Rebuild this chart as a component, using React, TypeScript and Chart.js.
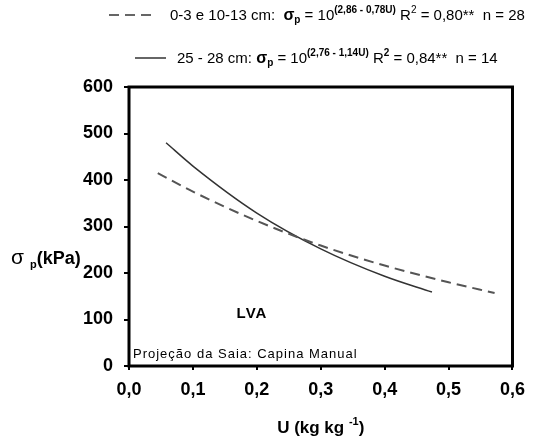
import React, { useEffect, useRef } from "react";
import { Chart, registerables } from "chart.js";

Chart.register(...registerables);

// Data
const dashedU = [0.045, 0.1, 0.2, 0.3, 0.4, 0.5, 0.572];
const dashedSigma = [415, 375, 312, 259, 216, 180, 157];
const solidU = [0.058, 0.1, 0.2, 0.3, 0.4, 0.474];
const solidSigma = [480, 430, 329, 252, 193, 159];
const xTicks = [0, 0.1, 0.2, 0.3, 0.4, 0.5, 0.6];
const yTicks = [0, 100, 200, 300, 400, 500, 600];
const seriesLabels = ["0-3 e 10-13 cm", "25 - 28 cm"];

const FONT = "Arial, 'Liberation Sans', sans-serif";

type Run = { t: string; font: string; dy?: number };

function drawRuns(ctx: CanvasRenderingContext2D, runs: Run[], x: number, y: number, align: "left" | "center" = "left") {
  let total = 0;
  for (const r of runs) {
    ctx.font = r.font;
    total += ctx.measureText(r.t).width;
  }
  let cx = align === "center" ? x - total / 2 : x;
  ctx.textBaseline = "alphabetic";
  ctx.textAlign = "left";
  for (const r of runs) {
    ctx.font = r.font;
    ctx.fillText(r.t, cx, y + (r.dy || 0));
    cx += ctx.measureText(r.t).width;
  }
}

const overlay = {
  id: "overlay",
  afterDraw(chart: any) {
    const ctx = chart.ctx as CanvasRenderingContext2D;
    const a = chart.chartArea;
    ctx.save();
    // frame
    ctx.strokeStyle = "#000";
    ctx.lineWidth = 3;
    ctx.strokeRect(a.left, a.top, a.right - a.left, a.bottom - a.top);

    ctx.fillStyle = "#000";
    // legend line 1
    ctx.strokeStyle = "#666";
    ctx.lineWidth = 2;
    ctx.setLineDash([10, 6]);
    ctx.beginPath();
    ctx.moveTo(109, 15);
    ctx.lineTo(153, 15);
    ctx.stroke();
    ctx.setLineDash([]);
    const n = `15px ${FONT}`;
    const sup = `bold 10px ${FONT}`;
    const sb = `bold 16px ${FONT}`;
    const sub = `bold 10px ${FONT}`;
    drawRuns(ctx, [
      { t: seriesLabels[0] + ":  ", font: n },
      { t: "σ", font: sb },
      { t: "p", font: sub, dy: 3 },
      { t: " = 10", font: n },
      { t: "(2,86 - 0,78U)", font: sup, dy: -7 },
      { t: " R", font: n },
      { t: "2", font: `10px ${FONT}`, dy: -7 },
      { t: " = 0,80**  n = 28", font: n },
    ], 170, 20);

    // legend line 2
    ctx.strokeStyle = "#333";
    ctx.lineWidth = 1.5;
    ctx.beginPath();
    ctx.moveTo(135, 58);
    ctx.lineTo(166, 58);
    ctx.stroke();
    drawRuns(ctx, [
      { t: seriesLabels[1] + ": ", font: n },
      { t: "σ", font: sb },
      { t: "p", font: sub, dy: 3 },
      { t: " = 10", font: n },
      { t: "(2,76 - 1,14U)", font: sup, dy: -7 },
      { t: " R", font: n },
      { t: "2", font: `bold 10px ${FONT}`, dy: -7 },
      { t: " = 0,84**  n = 14", font: n },
    ], 177, 63);

    // y title
    drawRuns(ctx, [
      { t: "σ", font: `21px ${FONT}` },
      { t: "  p", font: `bold 11px ${FONT}`, dy: 4 },
      { t: "(kPa)", font: `bold 18px ${FONT}` },
    ], 11, 264);

    // x title
    drawRuns(ctx, [
      { t: "U (kg kg ", font: `bold 17px ${FONT}` },
      { t: "-1", font: `bold 11px ${FONT}`, dy: -8 },
      { t: ")", font: `bold 17px ${FONT}` },
    ], (a.left + a.right) / 2, 433, "center");

    // annotations
    ctx.font = `bold 15px ${FONT}`;
    (ctx as any).letterSpacing = "1px";
    ctx.textAlign = "center";
    ctx.fillText("LVA", 252, 318);
    ctx.textAlign = "left";
    ctx.font = `13px ${FONT}`;
    ctx.fillText("Projeção da Saia: Capina Manual", 133, 358);
    (ctx as any).letterSpacing = "0px";
    ctx.restore();
  },
};

export default function App() {
  const ref = useRef<HTMLCanvasElement>(null);
  useEffect(() => {
    if (!ref.current) return;
    const chart = new Chart(ref.current, {
      type: "line",
      data: {
        datasets: [
          {
            label: seriesLabels[0],
            data: dashedU.map((u, i) => ({ x: u, y: dashedSigma[i] })),
            borderColor: "#555",
            borderWidth: 2,
            borderDash: [10, 6],
            pointRadius: 0,
            fill: false,
            cubicInterpolationMode: "monotone",
          },
          {
            label: seriesLabels[1],
            data: solidU.map((u, i) => ({ x: u, y: solidSigma[i] })),
            borderColor: "#333",
            borderWidth: 1.5,
            pointRadius: 0,
            fill: false,
            cubicInterpolationMode: "monotone",
          },
        ],
      },
      options: {
        animation: false,
        responsive: false,
        devicePixelRatio: 1,
        layout: { padding: { left: 0, right: 18, top: 87, bottom: 0 } },
        plugins: { legend: { display: false }, tooltip: { enabled: false } },
        scales: {
          x: {
            type: "linear",
            min: 0,
            max: 0.6,
            afterFit: (s: any) => { s.height = 71; },
            afterBuildTicks: (s: any) => { s.ticks = xTicks.map((v) => ({ value: v })); },
            ticks: {
              color: "#000",
              font: { family: FONT, size: 18, weight: "bold" },
              padding: 9,
              maxRotation: 0,
              callback: (v: any) => Number(v).toFixed(1).replace(".", ","),
            },
            grid: { drawOnChartArea: false, drawTicks: true, tickLength: 4, color: "#000", lineWidth: 2 },
            border: { display: false },
          },
          y: {
            type: "linear",
            min: 0,
            max: 600,
            afterFit: (s: any) => { s.width = 129; },
            afterBuildTicks: (s: any) => { s.ticks = yTicks.map((v) => ({ value: v })); },
            ticks: {
              color: "#000",
              font: { family: FONT, size: 18, weight: "bold" },
              padding: 11,
              callback: (v: any) => String(v),
            },
            grid: { drawOnChartArea: false, drawTicks: true, tickLength: 5, color: "#000", lineWidth: 2 },
            border: { display: false },
          },
        },
      },
      plugins: [overlay],
    } as any);
    return () => chart.destroy();
  }, []);
  return (
    <div style={{ position: "absolute", left: 0, top: 0, width: 534, height: 437, background: "#fff" }}>
      <canvas ref={ref} width={534} height={437} style={{ width: 534, height: 437 }} />
    </div>
  );
}
